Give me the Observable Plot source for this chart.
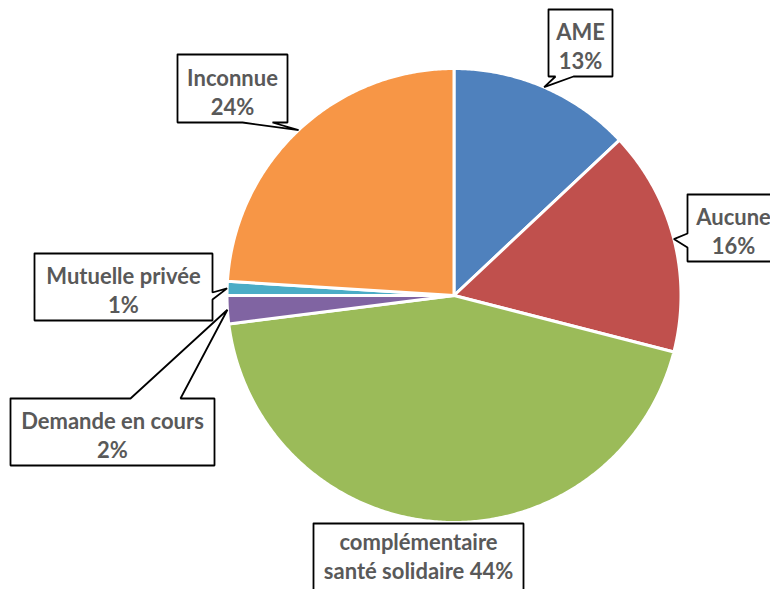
<!DOCTYPE html>
<html>
<head>
<meta charset="utf-8">
<script src="https://cdn.jsdelivr.net/npm/d3@7"></script>
<script src="https://cdn.jsdelivr.net/npm/@observablehq/plot@0.6"></script>
<style>
  html, body { margin: 0; padding: 0; background: #fff; overflow: hidden; }
</style>
</head>
<body>
<div id="chart"></div>
<script>
// ---- data ----
const categories = ["AME", "Aucune", "complémentaire santé solidaire", "Demande en cours", "Mutuelle privée", "Inconnue"];
const values = [13, 16, 44, 2, 1, 24];
const colors = ["#4F81BD", "#C0504D", "#9BBB59", "#8064A2", "#4BACC6", "#F79646"];
const labelNames = ["AME", "Aucune", "complémentaire\nsanté solidaire", "Demande en cours", "Mutuelle privée", "Inconnue"];
const labelSeparators = ["\n", "\n", " ", "\n", "\n", "\n"];

// ---- layout (pixels) ----
const W = 770, H = 589;
const CX = 453.5, CY = 295, R = 227;
// callout boxes: [x1, y1, x2, y2], wedge side and base, text centre
const callouts = [
  {box: [548, 9, 612, 76], side: "bottom", base: [555, 573], text: [580, 45]},
  {box: [687, 194, 800, 261], side: "left", base: [233, 247], text: [733, 230]},
  {box: [313, 523, 523, 610], side: null, base: null, text: [418, 555]},
  {box: [10, 398, 214, 465], side: "top", base: [130, 180], text: [112, 434]},
  {box: [34, 253, 212, 320], side: "right", base: [292, 299], text: [123, 289]},
  {box: [177, 54, 287, 122], side: "bottom", base: [242, 272], text: [232, 91]}
];

const ux = px => (px - CX) / R;
const uy = py => (CY - py) / R;

const total = d3.sum(values);
const cum = d3.cumsum(values);

// slice polygons in unit coordinates
const slices = [];
values.forEach((v, i) => {
  const f0 = (cum[i] - v) / total, f1 = cum[i] / total;
  const n = Math.max(4, Math.ceil((f1 - f0) * 720));
  slices.push({i, x: 0, y: 0, color: colors[i]});
  for (let k = 0; k <= n; k++) {
    const t = 2 * Math.PI * (f0 + (f1 - f0) * k / n);
    slices.push({i, x: Math.sin(t), y: Math.cos(t), color: colors[i]});
  }
  slices.push({i, x: 0, y: 0, color: colors[i]});
});

// callout bubbles, with pointer tip at the middle of each slice's arc
const bubbles = [];
const texts = [];
values.forEach((v, i) => {
  const c = callouts[i];
  const [x1, y1, x2, y2] = c.box;
  const fm = (cum[i] - v / 2) / total;
  const t = 2 * Math.PI * fm;
  const tip = [CX + R * Math.sin(t), CY - R * Math.cos(t)];
  let pts;
  if (c.side === "bottom") {
    pts = [[x1, y1], [x2, y1], [x2, y2], [c.base[1], y2], tip, [c.base[0], y2], [x1, y2], [x1, y1]];
  } else if (c.side === "top") {
    pts = [[x1, y1], [c.base[0], y1], tip, [c.base[1], y1], [x2, y1], [x2, y2], [x1, y2], [x1, y1]];
  } else if (c.side === "left") {
    pts = [[x1, y1], [x2, y1], [x2, y2], [x1, y2], [x1, c.base[1]], tip, [x1, c.base[0]], [x1, y1]];
  } else if (c.side === "right") {
    pts = [[x1, y1], [x2, y1], [x2, c.base[0]], tip, [x2, c.base[1]], [x2, y2], [x1, y2], [x1, y1]];
  } else {
    pts = [[x1, y1], [x2, y1], [x2, y2], [x1, y2], [x1, y1]];
  }
  pts.forEach(p => bubbles.push({i, x: ux(p[0]), y: uy(p[1])}));
  texts.push({
    x: ux(c.text[0]), y: uy(c.text[1]),
    label: `${labelNames[i]}${labelSeparators[i]}${values[i]}%`
  });
});

const chart = Plot.plot({
  width: W,
  height: H,
  margin: 0,
  x: {domain: [ux(0), ux(W)], axis: null},
  y: {domain: [uy(H), uy(0)], axis: null},
  style: {background: "#fff"},
  marks: [
    Plot.line(slices, {x: "x", y: "y", z: "i", fill: "color", stroke: "white", strokeWidth: 3, strokeLinejoin: "round", curve: "linear"}),
    Plot.line(bubbles, {x: "x", y: "y", z: "i", fill: "white", stroke: "black", strokeWidth: 1.8, strokeLinejoin: "miter", curve: "linear"}),
    Plot.text(texts, {
      x: "x", y: "y", text: "label",
      fontSize: 22, fontWeight: "bold", fill: "#595959",
      fontFamily: "Lato, 'Open Sans', sans-serif",
      lineHeight: 1.3, textAnchor: "middle"
    })
  ]
});
document.getElementById("chart").appendChild(chart);
</script>
</body>
</html>
